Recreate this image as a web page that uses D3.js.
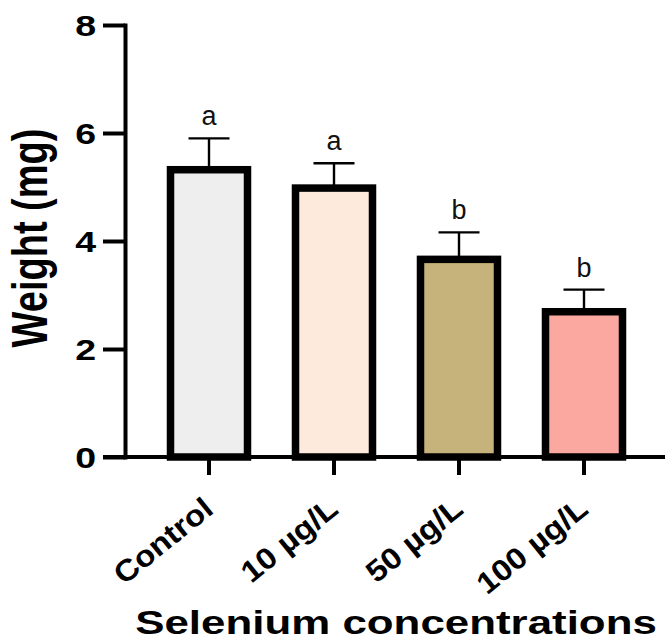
<!DOCTYPE html>
<html>
<head>
<meta charset="utf-8">
<script src="https://cdn.jsdelivr.net/npm/d3@7"></script>
<style>
  body { margin: 0; background: #fff; }
  text { font-family: "Liberation Sans", Arial, sans-serif; }
</style>
</head>
<body>
<div id="chart"></div>
<script>
// data
var groups = ["Control", "10 µg/L", "50 µg/L", "100 µg/L"];
var means = [5.32, 4.98, 3.66, 2.69];
var sds = [0.58, 0.46, 0.50, 0.41];
var letters = ["a", "a", "b", "b"];
var fills = ["#eeeeee", "#fdeadc", "#c5b37b", "#fba8a1"];
var yTicks = [0, 2, 4, 6, 8];

var width = 665, height = 643;

var svg = d3.select("#chart").append("svg")
    .attr("width", width)
    .attr("height", height);

// scales
var yScale = d3.scaleLinear().domain([0, 8]).range([457, 25]);
var xScale = d3.scaleBand().domain(groups)
    .range([126.5, 666.5])
    .paddingInner(0.384)
    .paddingOuter(0.352);

var y0 = yScale(0);

// error bars (upper half only shows)
var eb = svg.append("g").attr("stroke", "#000").attr("stroke-width", 2.4);
groups.forEach(function(g, i) {
  var cx = xScale(g) + xScale.bandwidth() / 2;
  eb.append("line")
      .attr("x1", cx).attr("x2", cx)
      .attr("y1", yScale(means[i])).attr("y2", yScale(means[i] + sds[i]));
  eb.append("line")
      .attr("x1", cx - 20.5).attr("x2", cx + 20.5)
      .attr("y1", yScale(means[i] + sds[i])).attr("y2", yScale(means[i] + sds[i]));
});

// bars
svg.append("g").selectAll("rect")
    .data(groups)
  .enter().append("rect")
    .attr("x", function(d) { return xScale(d); })
    .attr("width", xScale.bandwidth())
    .attr("y", function(d, i) { return yScale(means[i]); })
    .attr("height", function(d, i) { return y0 - yScale(means[i]); })
    .attr("fill", function(d, i) { return fills[i]; })
    .attr("stroke", "#000")
    .attr("stroke-width", 7.5);

// significance letters
svg.append("g").selectAll("text")
    .data(groups)
  .enter().append("text")
    .attr("x", function(d) { return xScale(d) + xScale.bandwidth() / 2; })
    .attr("y", function(d, i) { return yScale(means[i] + sds[i]) - 13; })
    .attr("text-anchor", "middle")
    .style("font-size", "27px")
    .attr("fill", "#111")
    .text(function(d, i) { return letters[i]; });

// y axis
var yAxis = svg.append("g")
    .attr("transform", "translate(125,0)")
    .call(d3.axisLeft(yScale).tickValues(yTicks).tickSize(22).tickSizeOuter(0).tickPadding(7));
yAxis.select(".domain").attr("stroke-width", 4).attr("stroke-linecap", "square");
yAxis.selectAll(".tick line").attr("stroke-width", 4);
yAxis.selectAll(".tick text")
    .style("font-size", "30px")
    .style("font-weight", "bold")
    .attr("fill", "#000")
    .attr("dy", "0.36em")
    .attr("transform", function() {
      var xx = +d3.select(this).attr("x");
      return "translate(" + xx + ",0) scale(1.25,1) translate(" + (-xx) + ",0)";
    });

// x axis
var xAxis = svg.append("g")
    .attr("transform", "translate(0," + y0 + ")")
    .call(d3.axisBottom(xScale).tickSize(18).tickSizeOuter(0).tickFormat(""));
xAxis.select(".domain")
    .attr("d", "M103,0H665")
    .attr("stroke-width", 4);
xAxis.selectAll(".tick line").attr("stroke-width", 4);

// rotated category labels
svg.append("g").selectAll("text")
    .data(groups)
  .enter().append("text")
    .attr("text-anchor", "end")
    .attr("transform", function(d) {
      var cx = xScale(d) + xScale.bandwidth() / 2;
      return "translate(" + (cx + 6) + ",512) rotate(-39) scale(1.1,1)";
    })
    .style("font-size", "30px")
    .style("font-weight", "bold")
    .attr("fill", "#000")
    .text(function(d) { return d; });

// axis titles
svg.append("text")
    .attr("transform", "translate(47,238) rotate(-90) scale(1,1.3)")
    .attr("text-anchor", "middle")
    .style("font-size", "38px")
    .style("font-weight", "bold")
    .text("Weight (mg)");

svg.append("text")
    .attr("transform", "translate(396,634) scale(1.33,1)")
    .attr("text-anchor", "middle")
    .style("font-size", "33px")
    .style("font-weight", "bold")
    .text("Selenium concentrations");
</script>
</body>
</html>
